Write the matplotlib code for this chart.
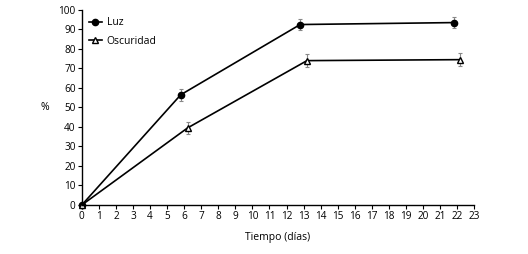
import matplotlib
matplotlib.use('Agg')
import matplotlib.pyplot as plt
from matplotlib.lines import Line2D

plt.rcParams['font.family'] = ['Open Sans', 'DejaVu Sans']

dias_luz = [0, 5.8, 12.8, 21.8]
luz = [0, 56.5, 92.5, 93.5]
err_luz = [0, 3, 3, 3]

dias_osc = [0, 6.2, 13.2, 22.2]
oscuridad = [0, 39.5, 74, 74.5]
err_osc = [0, 3, 3.5, 3.5]

x_ticks = list(range(0, 24))
y_ticks = list(range(0, 101, 10))

fig = plt.figure(figsize=(5.28, 2.54), dpi=100)
ax = fig.add_axes([0.155, 0.193, 0.743, 0.768])

ax.errorbar(dias_luz, luz, yerr=err_luz, color='black', ecolor='#888888',
            elinewidth=0.8, capsize=1.5, capthick=0.8, lw=1.2,
            marker='o', ms=4.5, mfc='black', mec='black')
ax.errorbar(dias_osc, oscuridad, yerr=err_osc, color='black', ecolor='#888888',
            elinewidth=0.8, capsize=1.5, capthick=0.8, lw=1.2,
            marker='^', ms=4.5, mfc='white', mec='black')

ax.set_xlim(0, 23)
ax.set_ylim(0, 100)
ax.set_xticks(x_ticks)
ax.set_yticks(y_ticks)
for s in ['top', 'right']:
    ax.spines[s].set_visible(False)
for s in ['left', 'bottom']:
    ax.spines[s].set_linewidth(1.0)
ax.tick_params(labelsize=7.2, length=3, width=0.8, pad=1.5)
ax.set_xlabel('Tiempo (días)', fontsize=7.5, labelpad=7)
ax.set_ylabel('%', fontsize=7.5, rotation=0, labelpad=10, va='center')

handles = [
    Line2D([], [], color='black', lw=1.2, marker='o', ms=4.5, mfc='black', mec='black'),
    Line2D([], [], color='black', lw=1.2, marker='^', ms=4.5, mfc='white', mec='black'),
]
ax.legend(handles, ['Luz', 'Oscuridad'], loc='upper left', frameon=False,
          fontsize=7.5, handlelength=1.2, bbox_to_anchor=(0.0, 1.0),
          borderaxespad=0.3, labelspacing=0.75, handletextpad=0.5)

for artist in ax.get_children():
    try:
        artist.set_clip_on(False)
    except Exception:
        pass

fig.savefig('out.png', dpi=100)
